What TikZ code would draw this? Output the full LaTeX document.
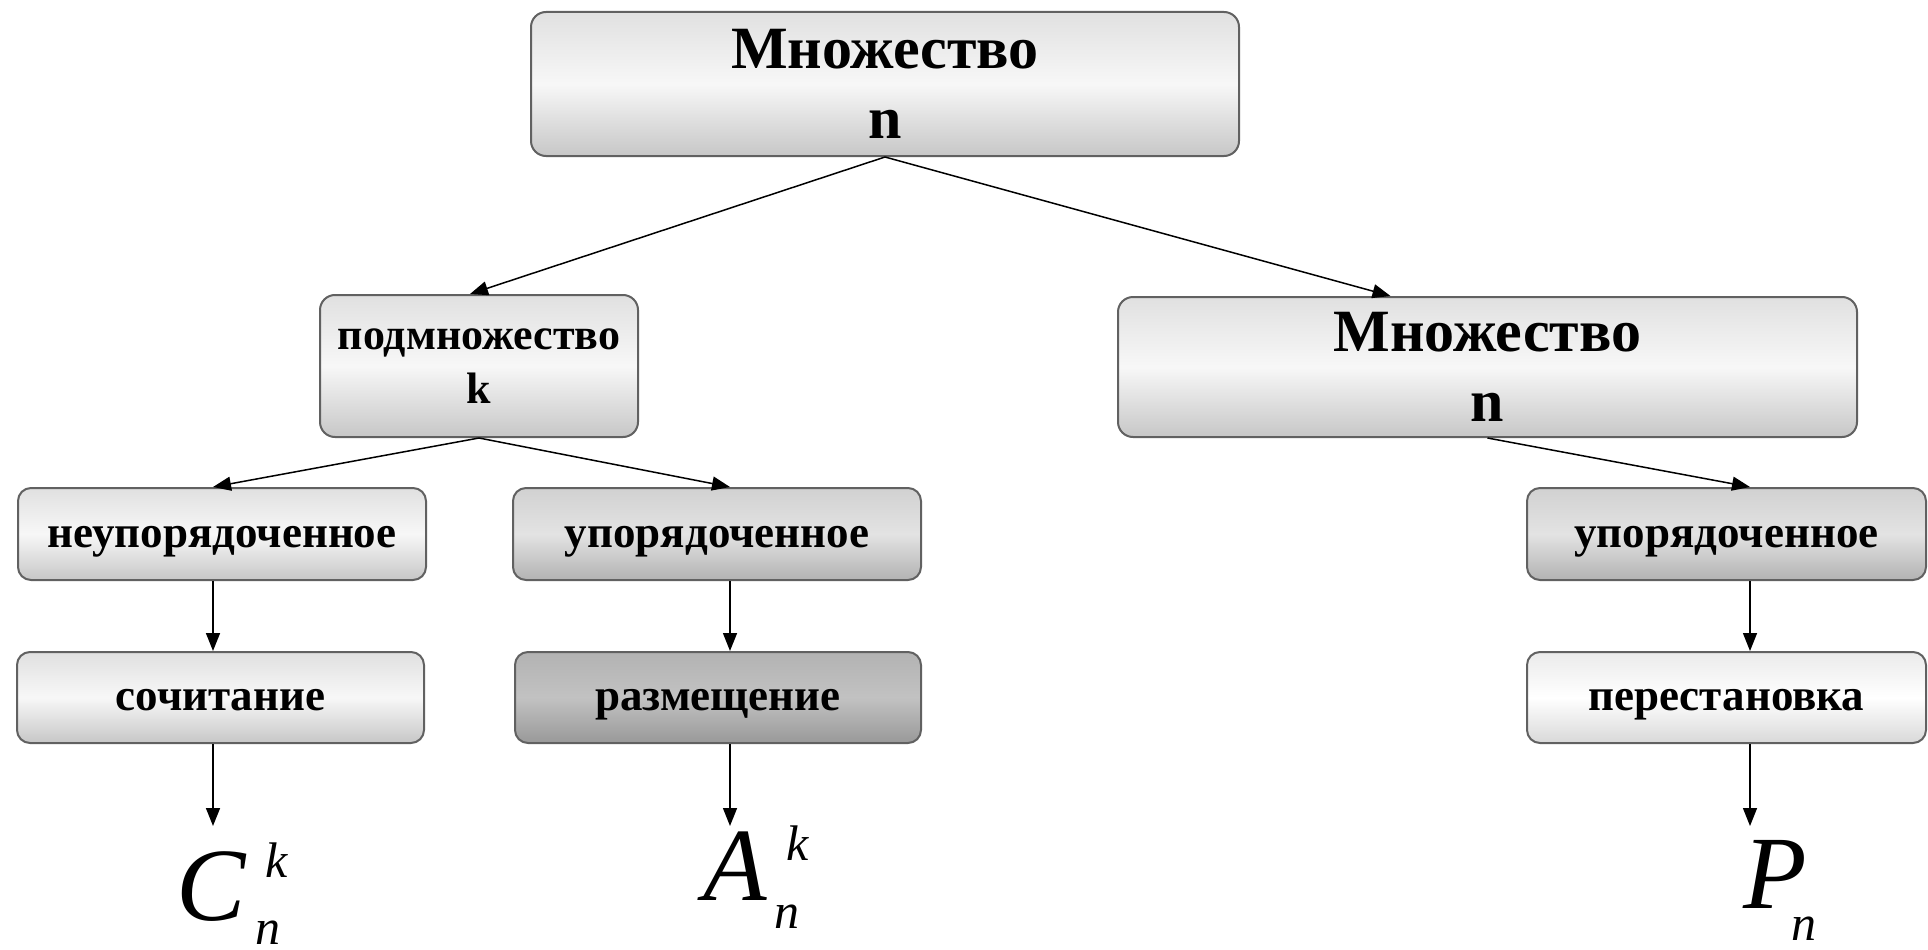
\documentclass[tikz,border=0pt]{standalone}
\usepackage{fontspec}
\setmainfont{Liberation Serif}
\usetikzlibrary{arrows.meta}
\newcommand\bigf{\fontsize{104}{104}\selectfont\mdseries\itshape}
\newcommand\smf{\fontsize{50}{50}\selectfont\mdseries\itshape}
\begin{document}
\begin{tikzpicture}[x=1pt,y=-1pt,
  box/.style={draw=black!62, line width=2pt, rounded corners=15pt, inner sep=0pt,
    font=\bfseries, align=center},
  big/.style={box, font=\fontsize{60}{70}\selectfont\bfseries},
  medtxt/.style={box, font=\fontsize{44}{54}\selectfont\bfseries},
  small/.style={box, rounded corners=13pt, font=\fontsize{45}{54}\selectfont\bfseries,
    text height=32pt, text depth=6pt},
  lt/.style={top color=black!12, bottom color=black!22, middle color=black!3},
  md/.style={top color=black!18, bottom color=black!30, middle color=black!11},
  dk/.style={top color=black!30, bottom color=black!40, middle color=black!24},
  wh/.style={top color=black!8, bottom color=black!15, middle color=white},
  formula/.style={inner sep=0pt, anchor=base west},
  arr/.style={line width=1.5pt, draw=black, -{Triangle[length=18pt,width=14pt]}}
]
\useasboundingbox (0,0) rectangle (1928,950);

% boxes
\node[big, lt, minimum width=708pt, minimum height=144pt] (top) at (885,84) {Множество\\n};
\node[medtxt, lt, minimum width=318pt, minimum height=142pt] (sub) at (479,366) {подмножество\\k};
\node[big, lt, minimum width=739pt, minimum height=140pt] (set2) at (1487.5,367) {Множество\\n};

\node[small, lt, minimum width=408pt, minimum height=92pt] (unord) at (222,534) {неупорядоченное};
\node[small, md, minimum width=408pt, minimum height=92pt] (ord1) at (717,534) {упорядоченное};
\node[small, md, minimum width=399pt, minimum height=92pt] (ord2) at (1726.5,534) {упорядоченное};

\node[small, lt, minimum width=407pt, minimum height=91pt] (comb) at (220.5,697.5) {сочитание};
\node[small, dk, minimum width=406pt, minimum height=91pt] (arrg) at (718,697.5) {размещение};
\node[small, wh, minimum width=399pt, minimum height=91pt] (perm) at (1726.5,697.5) {перестановка};

% formulas
\node[formula] (fC) at (176,920) {{\bigf C}\kern10pt\rlap{\kern10pt\raisebox{43pt}{\smf k}}\raisebox{-24pt}{\smf n}};
\node[formula] (fA) at (703,900) {{\bigf A}\kern8pt\rlap{\kern12pt\raisebox{40pt}{\smf k}}\raisebox{-28pt}{\smf n}};
\node[formula] (fP) at (1743,908) {{\bigf P}\kern-15pt\raisebox{-32pt}{\smf n}};

% arrow tips above formulas
\coordinate (tC) at (213,826);
\coordinate (tA) at (730,826);
\coordinate (tP) at (1750,826);

% connectors
\draw[arr] (top.south) -- ([xshift=-9pt]sub.north);
\draw[arr] (top.south) -- ([xshift=-97pt]set2.north);
\draw[arr] (sub.south) -- (unord.north -| tC);
\draw[arr] (sub.south) -- (ord1.north -| tA);
\draw[arr] (set2.south) -- (ord2.north -| tP);

\draw[arr] (unord.south -| tC) -- (comb.north -| tC);
\draw[arr] (ord1.south -| tA) -- (arrg.north -| tA);
\draw[arr] (ord2.south -| tP) -- (perm.north -| tP);

\draw[arr] (comb.south -| tC) -- (tC);
\draw[arr] (arrg.south -| tA) -- (tA);
\draw[arr] (perm.south -| tP) -- (tP);
\end{tikzpicture}
\end{document}
